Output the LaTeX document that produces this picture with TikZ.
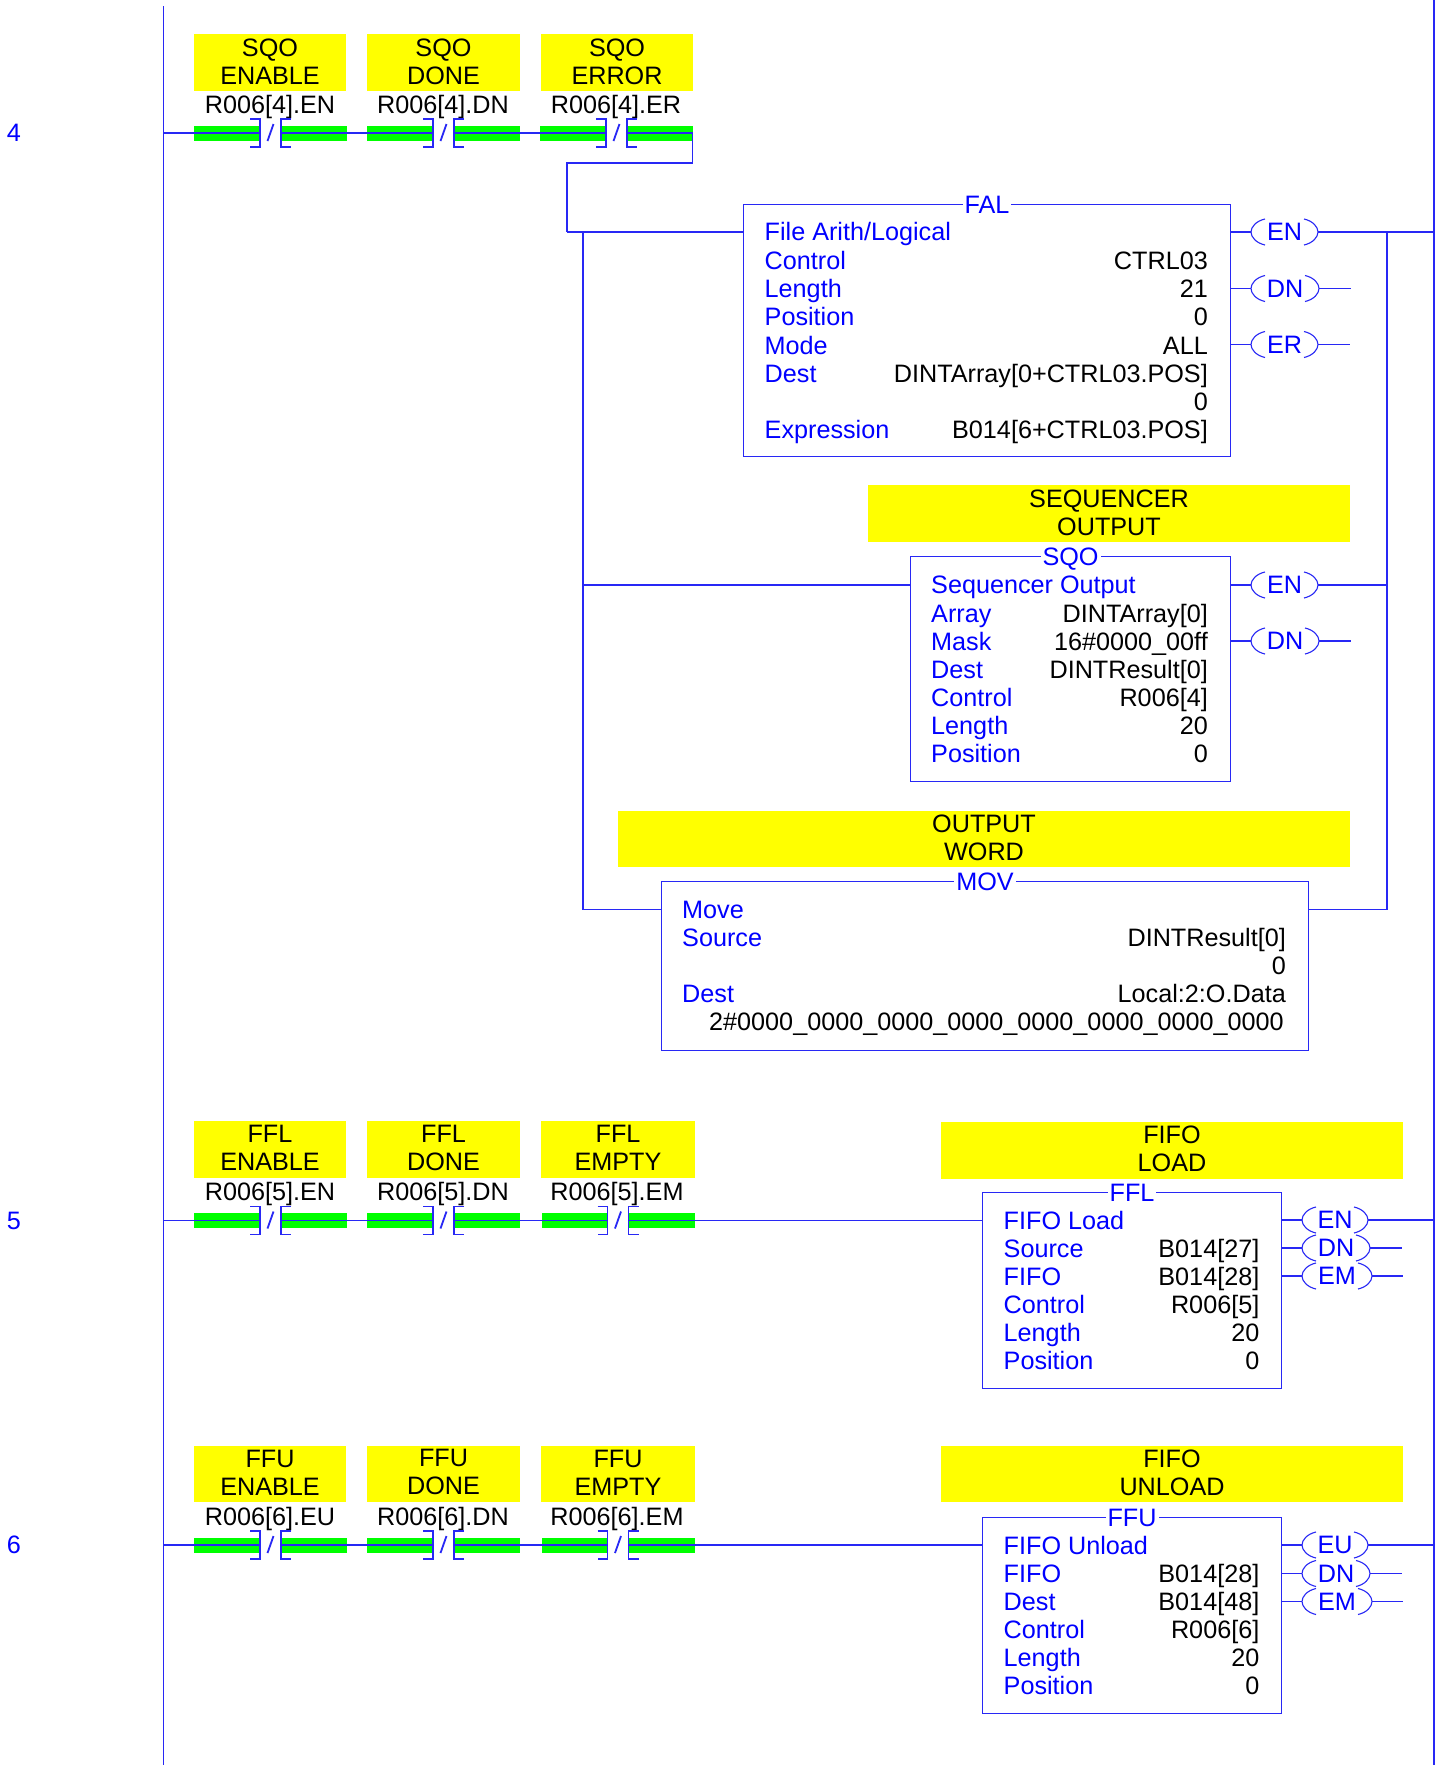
\documentclass[tikz,border=0pt]{standalone}
\usepackage{fontspec}
\setmainfont{Liberation Sans}
\definecolor{wireblue}{RGB}{40,40,245}
\definecolor{textblue}{RGB}{0,0,255}
\definecolor{barg}{RGB}{0,255,0}
\definecolor{yell}{RGB}{255,255,0}
\tikzset{
  wire/.style={draw=wireblue,line width=1.1pt},
  txt/.style={font=\fontsize{25.2}{28}\selectfont,inner sep=0pt,text=black},
  lab/.style={txt,anchor=base west,text=textblue,yshift=1pt},
  val/.style={txt,anchor=base east,yshift=1pt},
  tag/.style={txt,anchor=base},
  ybox/.style={fill=yell,inner sep=0pt},
  ytext/.style={txt,align=center},
  bar/.style={fill=barg,inner sep=0pt,minimum width=66pt,minimum height=15pt},
  blockbox/.style={draw=wireblue,line width=1.1pt,fill=none,inner sep=0pt},
  title/.style={txt,text=textblue,fill=white,inner xsep=2pt,inner ysep=0pt,anchor=base},
  coilnode/.style={txt,text=textblue,minimum height=26pt}
}
% yellow label: name, x1, y1, x2, y2, text
\newcommand{\ylab}[6]{%
  \pgfmathsetmacro{\ww}{#4-#2}\pgfmathsetmacro{\hh}{#5-#3}%
  \node[ybox,minimum width=\ww pt,minimum height=\hh pt] (#1) at ({(#2+#4)/2},{(#3+#5)/2}) {};
  \node[ytext] (#1t) at ([yshift=1.1pt]#1.center) {#6};}
% instruction block: name, x1, y1, x2, y2, title
\newcommand{\instr}[6]{%
  \pgfmathsetmacro{\ww}{#4-#2-1}\pgfmathsetmacro{\hh}{#5-#3-1}%
  \node[blockbox,minimum width=\ww pt,minimum height=\hh pt] (#1) at ({(#2+#4)/2},{(#3+#5)/2}) {};
  \node[title] (#1t) at ([yshift=-9.5pt]#1.north) {#6};}
% contact: name, x, y
\newcommand{\contact}[3]{%
  \node[bar,anchor=west] (#1a) at (#2,#3) {};
  \node[bar,anchor=west] (#1b) at ({#2+87},#3) {};
  \draw[wire] ({#2+56},{#3-14}) -- ({#2+66},{#3-14}) -- ({#2+66},{#3+14}) -- ({#2+56},{#3+14});
  \draw[wire] ({#2+97},{#3-14}) -- ({#2+87},{#3-14}) -- ({#2+87},{#3+14}) -- ({#2+97},{#3+14});
  \draw[wire,line width=1.8pt] ({#2+73.5},{#3+8}) -- ({#2+79.5},{#3-9});}
% coil: name, x1, x2, y, text
\newcommand{\coil}[5]{%
  \pgfmathsetmacro{\ww}{#3-#2}%
  \node[coilnode,minimum width=\ww pt] (#1) at ({(#2+#3)/2},#4) {#5};
  \draw[wire] ({#2+14},{#4-13}) .. controls ({#2+5},{#4-11}) and ({#2},{#4-5}) .. ({#2},{#4}) .. controls ({#2},{#4+5}) and ({#2+5},{#4+11}) .. ({#2+14},{#4+13});
  \draw[wire] ({#3-14},{#4-13}) .. controls ({#3-5},{#4-11}) and ({#3},{#4-5}) .. ({#3},{#4}) .. controls ({#3},{#4+5}) and ({#3-5},{#4+11}) .. ({#3-14},{#4+13});}
\begin{document}
\begin{tikzpicture}[x=1pt,y=-1pt]
\useasboundingbox (0,0) rectangle (1439,1765);
\fill[white] (0,0) rectangle (1439,1765);
% rails
\coordinate (railLt) at (163.5,6);
\coordinate (railLb) at (163.5,1765);
\coordinate (railRt) at (1434,0);
\coordinate (railRb) at (1434,1765);
\draw[wire] (railLt) -- (railLb);
\draw[wire] (railRt) -- (railRb);
% rung numbers
\node[txt,text=textblue] (n4) at (14,133) {4};
\node[txt,text=textblue] (n5) at (14,1221) {5};
\node[txt,text=textblue] (n6) at (14,1545) {6};

% ---- rung 4
\ylab{y41}{194}{34}{346}{91}{SQO\\ENABLE}
\ylab{y42}{367}{34}{520}{91}{SQO\\DONE}
\ylab{y43}{541}{34}{693}{91}{SQO\\ERROR}
\node[tag] (t41) at (270,113) {R006[4].EN};
\node[tag] (t42) at (443,113) {R006[4].DN};
\node[tag] (t43) at (616,113) {R006[4].ER};
\contact{c41}{194}{133}
\contact{c42}{367}{133}
\contact{c43}{540}{133}
\draw[wire] (railLt |- c41a.west) -- (c41a.east);
\draw[wire] (c41b.west) -- (c42a.east);
\draw[wire] (c42b.west) -- (c43a.east);
\draw[wire] (c43b.west) -- ([xshift=-0.7pt]c43b.east) -- ++(0,30) coordinate (k1) -- (567,163) coordinate (k2) -- (567,232) coordinate (k3);

\instr{fal}{743}{204}{1231}{457}{FAL}
\draw[wire] (k3) -- (743,232) coordinate (falin);
\coordinate (br) at (583,232);
\foreach \yy/\ll in {241/{File Arith/Logical},270/Control,298/Length,326/Position,355/Mode,383/Dest,439/Expression}
  {\node[lab] at (764.5,\yy) {\ll};}
\node[val] (f1) at (1208,270) {CTRL03};
\node[val] (f2) at (1208,298) {21};
\node[val] (f3) at (1208,326) {0};
\node[val] (f4) at (1208,355) {ALL};
\node[val] (f5) at (1208,383) {DINTArray[0+CTRL03.POS]};
\node[val] (f6) at (1208,411) {0};
\node[val] (f7) at (1208,439) {B014[6+CTRL03.POS]};
\coil{cfe}{1251}{1318}{232}{EN}
\coil{cfd}{1251}{1319}{288.5}{DN}
\coil{cfr}{1251}{1318}{344.5}{ER}
\draw[wire] (fal.east |- cfe.west) -- (cfe.west);
\draw[wire] (fal.east |- cfd.west) -- (cfd.west);
\draw[wire] (fal.east |- cfr.west) -- (cfr.west);
\draw[wire] (cfe.east) -- (railRt |- cfe.east);
\draw[wire] (cfd.east) -- ++(32,0) coordinate (cfdEnd);
\draw[wire] (cfr.east) -- ++(32,0) coordinate (cfrEnd);
\coordinate (brR) at (1387,232);

\ylab{y44}{868}{485}{1350}{542}{SEQUENCER\\OUTPUT}
\instr{sqo}{910}{556}{1231}{782}{SQO}
\foreach \yy/\ll in {594/Sequencer Output,623/Array,651/Mask,679/Dest,707/Control,735/Length,763/Position}
  {\node[lab] at (931,\yy) {\ll};}
\node[val] at (1208,623) {DINTArray[0]};
\node[val] at (1208,651) {16\#0000\_00ff};
\node[val] at (1208,679) {DINTResult[0]};
\node[val] at (1208,707) {R006[4]};
\node[val] at (1208,735) {20};
\node[val] at (1208,763) {0};
\coil{cse}{1251}{1318}{585}{EN}
\coil{csd}{1251}{1319}{641}{DN}
\draw[wire] (sqo.east |- cse.west) -- (cse.west);
\draw[wire] (sqo.east |- csd.west) -- (csd.west);
\draw[wire] (cse.east) -- (brR |- cse.east);
\draw[wire] (csd.east) -- ++(32,0) coordinate (csdEnd);
\draw[wire] (br |- cse.west) -- (sqo.west |- cse.west);

\ylab{y45}{618}{811}{1350}{867}{OUTPUT\\WORD}
\instr{mov}{661}{881}{1309}{1051}{MOV}
\foreach \yy/\ll in {919/Move,947/Source,1003/Dest}
  {\node[lab] at (682,\yy) {\ll};}
\node[val] at (1286,947) {DINTResult[0]};
\node[val] at (1286,975) {0};
\node[val] at (1286,1003) {Local:2:O.Data};
\node[val] at (1284,1031) {2\#0000\_0000\_0000\_0000\_0000\_0000\_0000\_0000};
\coordinate (movy) at (0,909.5);
\draw[wire] (br) -- (br |- movy) -- (mov.west |- movy);
\draw[wire] (mov.east |- movy) -- (brR |- movy) -- (brR);

% ---- rung 5
\ylab{y51}{194}{1120.5}{346}{1178}{FFL\\ENABLE}
\ylab{y52}{367}{1120.5}{520}{1178}{FFL\\DONE}
\ylab{y53}{541}{1120.5}{695}{1178}{FFL\\EMPTY}
\node[tag] (t51) at (270,1200.5) {R006[5].EN};
\node[tag] (t52) at (443,1200.5) {R006[5].DN};
\node[tag] (t53) at (617,1200.5) {R006[5].EM};
\contact{c51}{194}{1220.5}
\contact{c52}{367}{1220.5}
\contact{c53}{541.5}{1220.5}
\ylab{y54}{941}{1121.5}{1403}{1179}{FIFO\\LOAD}
\instr{ffl}{982}{1192}{1282}{1389}{FFL}
\draw[wire] (railLt |- c51a.west) -- (c51a.east);
\draw[wire] (c51b.west) -- (c52a.east);
\draw[wire] (c52b.west) -- (c53a.east);
\draw[wire] (c53b.west) -- (ffl.west |- c53b.west);
\foreach \yy/\ll in {1230/FIFO Load,1258/Source,1286/FIFO,1314/Control,1342/Length,1370/Position}
  {\node[lab] at (1003.5,\yy) {\ll};}
\node[val] at (1259.5,1258) {B014[27]};
\node[val] at (1259.5,1286) {B014[28]};
\node[val] at (1259.5,1314) {R006[5]};
\node[val] at (1259.5,1342) {20};
\node[val] at (1259.5,1370) {0};
\coil{c5e}{1302}{1368}{1220}{EN}
\coil{c5d}{1302}{1370}{1248}{DN}
\coil{c5m}{1302}{1372}{1276}{EM}
\draw[wire] (ffl.east |- c5e.west) -- (c5e.west);
\draw[wire] (ffl.east |- c5d.west) -- (c5d.west);
\draw[wire] (ffl.east |- c5m.west) -- (c5m.west);
\draw[wire] (c5e.east) -- (railRt |- c5e.east);
\draw[wire] (c5d.east) -- ++(32,0) coordinate (c5dEnd);
\draw[wire] (c5m.east) -- ++(31,0) coordinate (c5mEnd);

% ---- rung 6
\ylab{y61}{194}{1445.5}{346}{1501.5}{FFU\\ENABLE}
\ylab{y62}{367}{1445.5}{520}{1501.5}{FFU\\DONE}
\ylab{y63}{541}{1445.5}{695}{1501.5}{FFU\\EMPTY}
\node[tag] (t61) at (270,1525) {R006[6].EU};
\node[tag] (t62) at (443,1525) {R006[6].DN};
\node[tag] (t63) at (617,1525) {R006[6].EM};
\contact{c61}{194}{1545}
\contact{c62}{367}{1545}
\contact{c63}{541.5}{1545}
\ylab{y64}{941}{1445.5}{1403}{1501.5}{FIFO\\UNLOAD}
\instr{ffu}{982}{1517}{1282}{1714}{FFU}
\draw[wire] (railLt |- c61a.west) -- (c61a.east);
\draw[wire] (c61b.west) -- (c62a.east);
\draw[wire] (c62b.west) -- (c63a.east);
\draw[wire] (c63b.west) -- (ffu.west |- c63b.west);
\foreach \yy/\ll in {1555/FIFO Unload,1583/FIFO,1611/Dest,1639/Control,1667/Length,1695/Position}
  {\node[lab] at (1003.5,\yy) {\ll};}
\node[val] at (1259.5,1583) {B014[28]};
\node[val] at (1259.5,1611) {B014[48]};
\node[val] at (1259.5,1639) {R006[6]};
\node[val] at (1259.5,1667) {20};
\node[val] at (1259.5,1695) {0};
\coil{c6e}{1302}{1368}{1545}{EU}
\coil{c6d}{1302}{1370}{1573.5}{DN}
\coil{c6m}{1302}{1372}{1601.5}{EM}
\draw[wire] (ffu.east |- c6e.west) -- (c6e.west);
\draw[wire] (ffu.east |- c6d.west) -- (c6d.west);
\draw[wire] (ffu.east |- c6m.west) -- (c6m.west);
\draw[wire] (c6e.east) -- (railRt |- c6e.east);
\draw[wire] (c6d.east) -- ++(32,0) coordinate (c6dEnd);
\draw[wire] (c6m.east) -- ++(31,0) coordinate (c6mEnd);
\end{tikzpicture}
\end{document}
